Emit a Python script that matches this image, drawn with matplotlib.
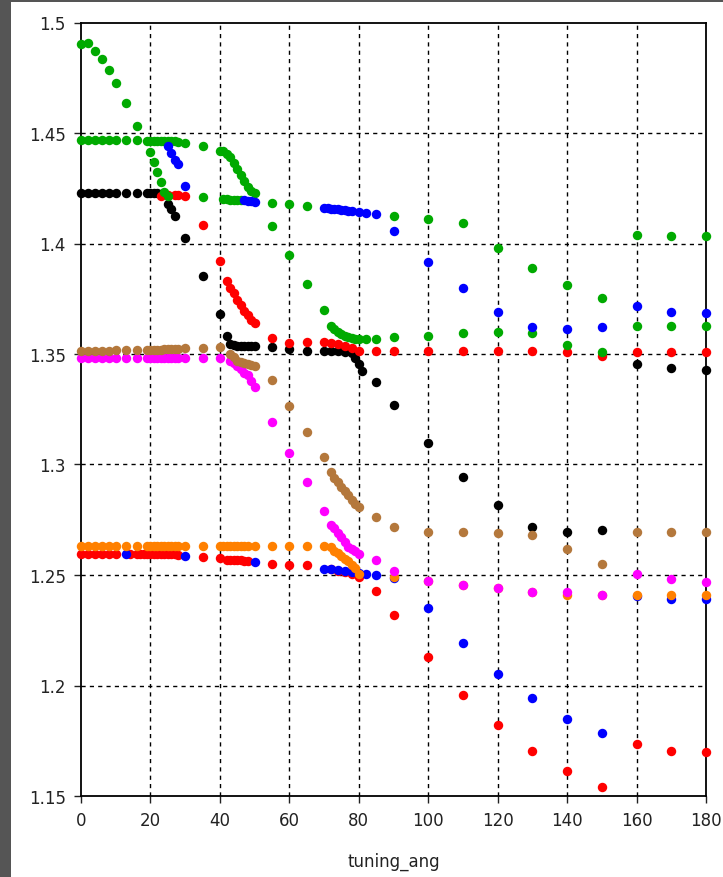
import matplotlib
matplotlib.use("Agg")
import matplotlib.pyplot as plt
from matplotlib.patches import Rectangle

# --- datos (tuning_ang vs indice) ---

verde_x = [0, 2, 4, 6, 8, 10, 13, 16,
           0, 2, 4, 6, 8, 10, 13, 16, 19, 20, 21, 22, 23, 24, 25, 26, 27, 28, 30, 35, 40,
           20, 21, 22, 23, 24, 25,
           35, 41, 42, 43, 44, 45, 46,
           41, 42, 43, 44, 45, 46, 47, 48, 49, 50,
           55, 60, 65, 90, 100, 110, 120, 130, 140, 150, 160, 170, 180,
           55, 60, 65, 70, 72, 73, 74, 75, 76, 77, 78, 79, 80, 82, 85,
           90, 100, 110, 120, 130, 140, 150, 160, 170, 180]
verde_y = [1.4904, 1.4905, 1.4871, 1.4835, 1.4785, 1.4726, 1.4636, 1.4532,
           1.4468, 1.4468, 1.4468, 1.4468, 1.4468, 1.4467, 1.4467, 1.4467, 1.4466, 1.4466,
           1.4466, 1.4466, 1.4465, 1.4465, 1.4465, 1.4464, 1.4462, 1.4460, 1.4455, 1.4442, 1.4420,
           1.4414, 1.4369, 1.4324, 1.4279, 1.4234, 1.4216,
           1.4210, 1.4200, 1.4200, 1.4198, 1.4198, 1.4196, 1.4195,
           1.4418, 1.4405, 1.4390, 1.4365, 1.4338, 1.4310, 1.4283, 1.4255, 1.4238, 1.4230,
           1.4184, 1.4179, 1.4170, 1.4125, 1.4110, 1.4093, 1.3980, 1.3890, 1.3810, 1.3754,
           1.4039, 1.4034, 1.4034,
           1.4080, 1.3950, 1.3817, 1.3700, 1.3628, 1.3612, 1.3600, 1.3590, 1.3582, 1.3576,
           1.3572, 1.3570, 1.3569, 1.3569, 1.3570,
           1.3575, 1.3582, 1.3596, 1.3600, 1.3596, 1.3540, 1.3510, 1.3628, 1.3628, 1.3628]

azul_x = [13, 30, 50,
          25, 26, 27, 28, 30,
          47, 48, 49, 50,
          70, 71, 72, 73, 74, 75, 76, 77, 78, 80, 82, 85,
          90, 100, 110, 120, 130, 140, 150, 160, 170, 180,
          70, 72, 74, 76, 78, 80, 82, 85, 90, 100, 110, 120, 130, 140, 150, 160, 170, 180]
azul_y = [1.2597, 1.2588, 1.2561,
          1.4441, 1.4410, 1.4380, 1.4360, 1.4260,
          1.4195, 1.4193, 1.4192, 1.4190,
          1.4161, 1.4160, 1.4158, 1.4156, 1.4154, 1.4152, 1.4150, 1.4148, 1.4146, 1.4142,
          1.4140, 1.4135,
          1.4057, 1.3917, 1.3800, 1.3690, 1.3623, 1.3614, 1.3623, 1.3718, 1.3690, 1.3686,
          1.2529, 1.2527, 1.2523, 1.2520, 1.2515, 1.2510, 1.2505, 1.2500, 1.2486, 1.2350,
          1.2194, 1.2054, 1.1945, 1.1850, 1.1787, 1.2405, 1.2393, 1.2393]

rojo_x = [0, 2, 4, 6, 8, 10, 14, 16, 17, 18, 19, 20, 21, 22, 23, 24, 25, 26, 27, 28,
          35, 40, 42, 43, 44, 45, 46, 47, 48, 55, 60, 65,
          72, 74, 76, 78, 80, 85, 90, 100, 110, 120, 130, 140, 150, 160, 170, 180,
          23, 25, 27, 28, 30, 35, 40,
          42, 43, 44, 45, 46, 47, 48, 49, 50,
          55, 60, 65, 70, 72, 74, 76, 78, 80,
          85, 90, 100, 110, 120, 130, 140, 150, 160, 170, 180]
rojo_y = [1.2597, 1.2597, 1.2597, 1.2597, 1.2597, 1.2597, 1.2597, 1.2596, 1.2596, 1.2596,
          1.2596, 1.2596, 1.2595, 1.2595, 1.2595, 1.2594, 1.2594, 1.2593, 1.2593, 1.2592,
          1.2583, 1.2579, 1.2570, 1.2568, 1.2567, 1.2566, 1.2566, 1.2565, 1.2564,
          1.2552, 1.2547, 1.2543,
          1.2525, 1.2520, 1.2514, 1.2506, 1.2493, 1.2426, 1.2320, 1.2127, 1.1955, 1.1820,
          1.1704, 1.1614, 1.1542, 1.1735, 1.1704, 1.1699,
          1.4215, 1.4220, 1.4220, 1.4220, 1.4215, 1.4084, 1.3920,
          1.3830, 1.3800, 1.3775, 1.3745, 1.3720, 1.3695, 1.3675, 1.3655, 1.3640,
          1.3573, 1.3550, 1.3555, 1.3555, 1.3550, 1.3545, 1.3535, 1.3525, 1.3515,
          1.3515, 1.3515, 1.3515, 1.3515, 1.3515, 1.3515, 1.3510, 1.3492, 1.3510, 1.3510, 1.3510]

negro_x = [0, 2, 4, 6, 8, 10, 13, 16, 19, 20, 21, 22, 23, 24, 25, 26, 27, 30, 35, 40,
           42, 43, 44, 45, 46, 47, 48, 49, 50, 55, 60, 65,
           70, 72, 74, 76, 78, 79, 80, 81, 85, 90,
           100, 110, 120, 130, 140, 150, 160, 170, 180]
negro_y = [1.4229, 1.4229, 1.4229, 1.4229, 1.4229, 1.4228, 1.4228, 1.4228, 1.4228, 1.4228,
           1.4227, 1.4227, 1.4226, 1.4224, 1.4180, 1.4156, 1.4125, 1.4025, 1.3853, 1.3680,
           1.3580, 1.3546, 1.3540, 1.3538, 1.3537, 1.3537, 1.3537, 1.3536, 1.3535,
           1.3533, 1.3523, 1.3514,
           1.3514, 1.3513, 1.3512, 1.3511, 1.3505, 1.3480, 1.3456, 1.3424, 1.3374, 1.3270,
           1.3097, 1.2945, 1.2817, 1.2715, 1.2694, 1.2703, 1.3456, 1.3438, 1.3429]

cafe_x = [0, 2, 4, 6, 8, 10, 13, 16, 19, 20, 21, 22, 23, 24, 25, 26, 27, 28, 30, 35, 40,
          43, 44, 45, 46, 47, 48, 49, 50, 55, 60, 65,
          70, 72, 73, 74, 75, 76, 77, 78, 79, 80, 85, 90,
          100, 110, 120, 130, 140, 150, 160, 170, 180]
cafe_y = [1.3515, 1.3515, 1.3515, 1.3515, 1.3515, 1.3516, 1.3516, 1.3517, 1.3518, 1.3518,
          1.3519, 1.3520, 1.3520, 1.3521, 1.3522, 1.3522, 1.3523, 1.3524, 1.3525, 1.3527, 1.3530,
          1.3500, 1.3485, 1.3470, 1.3465, 1.3460, 1.3456, 1.3450, 1.3447,
          1.3383, 1.3266, 1.3148,
          1.3035, 1.2967, 1.2940, 1.2922, 1.2900, 1.2880, 1.2862, 1.2840, 1.2820, 1.2807,
          1.2764, 1.2719,
          1.2694, 1.2694, 1.2690, 1.2680, 1.2619, 1.2552, 1.2694, 1.2694, 1.2696]

magenta_x = [0, 2, 4, 6, 8, 10, 13, 16, 19, 20, 21, 22, 23, 24, 25, 26, 27, 28, 30, 35, 40,
             43, 44, 45, 46, 47, 48, 49, 50, 55, 60, 65,
             70, 72, 73, 74, 75, 76, 77, 78, 79, 80, 85, 90,
             100, 110, 120, 130, 140, 150, 160, 170, 180]
magenta_y = [1.3483, 1.3483, 1.3483, 1.3483, 1.3483, 1.3483, 1.3483, 1.3483, 1.3483, 1.3483,
             1.3483, 1.3483, 1.3483, 1.3483, 1.3483, 1.3483, 1.3483, 1.3483, 1.3483, 1.3482, 1.3480,
             1.3470, 1.3460, 1.3447, 1.3430, 1.3415, 1.3406, 1.3380, 1.3352,
             1.3193, 1.3053, 1.2920,
             1.2789, 1.2725, 1.2712, 1.2690, 1.2672, 1.2650, 1.2628, 1.2618, 1.2607, 1.2597,
             1.2566, 1.2516,
             1.2475, 1.2457, 1.2443, 1.2425, 1.2423, 1.2410, 1.2506, 1.2484, 1.2470]

naranja_x = [0, 2, 4, 6, 8, 10, 13, 16, 19, 20, 21, 22, 23, 24, 25, 26, 27, 28, 30, 35, 40,
             41, 42, 43, 44, 45, 46, 47, 48, 50, 55, 60, 65,
             70, 72, 73, 74, 75, 76, 77, 78, 79, 80, 90,
             100, 110, 120, 130, 140, 150, 160, 170, 180]
naranja_y = [1.2633, 1.2633, 1.2633, 1.2633, 1.2633, 1.2633, 1.2633, 1.2633, 1.2633, 1.2633,
             1.2633, 1.2633, 1.2633, 1.2633, 1.2633, 1.2633, 1.2633, 1.2633, 1.2633, 1.2633, 1.2633,
             1.2633, 1.2633, 1.2633, 1.2633, 1.2633, 1.2633, 1.2633, 1.2633, 1.2633, 1.2633,
             1.2633, 1.2633,
             1.2630, 1.2628, 1.2610, 1.2598, 1.2588, 1.2572, 1.2563, 1.2545, 1.2530, 1.2506,
             1.2493,
             1.2475, 1.2457, 1.2443, 1.2425, 1.2410, 1.2410, 1.2410, 1.2410, 1.2410]

series = [
    (negro_x, negro_y, "#000000"),
    (rojo_x, rojo_y, "#ff0000"),
    (verde_x, verde_y, "#00aa00"),
    (azul_x, azul_y, "#0000ff"),
    (naranja_x, naranja_y, "#ff8000"),
    (magenta_x, magenta_y, "#ff00ff"),
    (cafe_x, cafe_y, "#b4783c"),
]

fig = plt.figure(figsize=(7.23, 8.78), dpi=100)
fig.patch.set_facecolor("#555555")
fig.add_artist(Rectangle((11 / 723, 0), 1, 875 / 878, transform=fig.transFigure,
                         facecolor="white", edgecolor="none", zorder=-1))

ax = fig.add_axes([81 / 723, 81 / 878, 625 / 723, 773.5 / 878])
for xs, ys, col in series:
    ax.plot(xs, ys, linestyle="none", marker="o", ms=6.8, mew=0, color=col,
            clip_on=False, zorder=4)

ax.set_xlim(0, 180)
ax.set_ylim(1.15, 1.5)
ax.set_xticks(range(0, 181, 20))
yt = [1.15, 1.2, 1.25, 1.3, 1.35, 1.4, 1.45, 1.5]
ax.set_yticks(yt)
ax.set_yticklabels([f"{v:g}" for v in yt])
ax.grid(True, color="black", linestyle=(0, (3, 3)), linewidth=1.0)
ax.set_axisbelow(True)
# quitar las lineas de grilla que caen justo sobre el borde
for gl in ax.get_xgridlines()[:1] + ax.get_xgridlines()[-1:]:
    gl.set_visible(False)
for gl in ax.get_ygridlines()[:1] + ax.get_ygridlines()[-1:]:
    gl.set_visible(False)
for s in ax.spines.values():
    s.set_linewidth(1.3)
    s.set_zorder(3)
ax.tick_params(direction="out", length=5, width=1, labelsize=12, colors="#222222", pad=6)
ax.set_xlabel("tuning_ang", fontsize=12, color="#222222", labelpad=16)

fig.savefig("out.png", dpi=100, facecolor=fig.get_facecolor())
